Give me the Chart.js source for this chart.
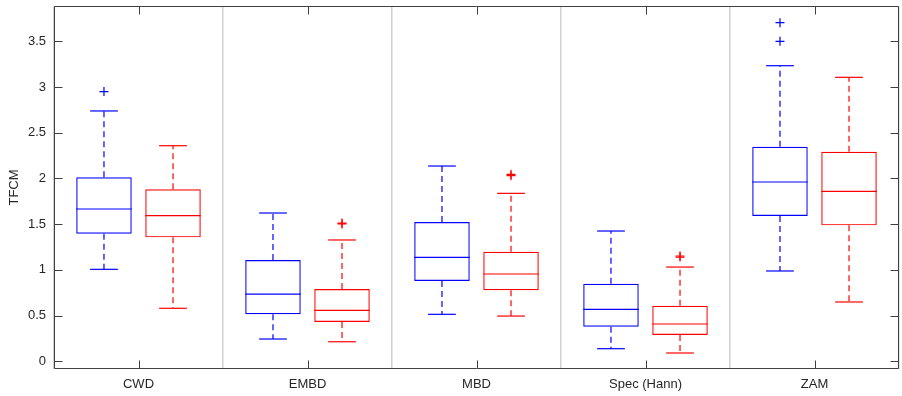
<!DOCTYPE html>
<html>
<head>
<meta charset="utf-8">
<script src="https://cdn.jsdelivr.net/npm/chart.js@4.4.1/dist/chart.umd.min.js"></script>
<style>
html,body{margin:0;padding:0;background:#fff;}
#wrap{width:902px;height:396px;position:relative;}
</style>
</head>
<body>
<div id="wrap"><canvas id="c" width="902" height="396"></canvas></div>
<script>
const categories = ['CWD', 'EMBD', 'MBD', 'Spec (Hann)', 'ZAM'];
const yTicks = [0, 0.5, 1, 1.5, 2, 2.5, 3, 3.5];

// Blue series
const blueLow  = [1.006, 0.244, 0.514, 0.138, 0.988];
const blueQ1   = [1.396, 0.514, 0.878, 0.379, 1.589];
const blueMed  = [1.666, 0.735, 1.137, 0.569, 1.961];
const blueQ3   = [2.012, 1.108, 1.524, 0.849, 2.347];
const blueHigh = [2.738, 1.622, 2.136, 1.425, 3.233];
const blueOut  = [[2.95], [], [], [], [3.50, 3.704]];

// Red series
const redLow  = [0.580, 0.214, 0.495, 0.091, 0.649];
const redQ1   = [1.356, 0.430, 0.777, 0.288, 1.487];
const redMed  = [1.593, 0.558, 0.955, 0.408, 1.859];
const redQ3   = [1.881, 0.791, 1.199, 0.608, 2.292];
const redHigh = [2.358, 1.327, 1.837, 1.031, 3.106];
const redOut  = [[], [1.503, 1.512], [2.030, 2.045], [1.140, 1.152], []];

const BLUE = '#0000ff', RED = '#ff0000', AXIS = '#404040', TXT = '#262626';
const FONT = {family: '"Liberation Sans", Arial, Helvetica, sans-serif', size: 13};

const stats = [
  {low: blueLow, med: blueMed, high: blueHigh, q1: blueQ1, q3: blueQ3, out: blueOut, color: BLUE},
  {low: redLow, med: redMed, high: redHigh, q1: redQ1, q3: redQ3, out: redOut, color: RED}
];

const boxPlugin = {
  id: 'boxExtras',
  afterDatasetsDraw(chart) {
    const ctx = chart.ctx;
    const ys = chart.scales.y;
    stats.forEach((s, d) => {
      const meta = chart.getDatasetMeta(d);
      meta.data.forEach((el, i) => {
        const cx = el.x;
        const half = el.width / 2;
        const py = v => ys.getPixelForValue(v);
        ctx.save();
        ctx.strokeStyle = s.color;
        ctx.lineWidth = 1.2;
        // median
        ctx.beginPath();
        ctx.moveTo(cx - half, py(s.med[i]));
        ctx.lineTo(cx + half, py(s.med[i]));
        ctx.stroke();
        // whiskers (dashed)
        ctx.setLineDash([6, 4]);
        ctx.beginPath();
        ctx.moveTo(cx, py(s.q3[i]));
        ctx.lineTo(cx, py(s.high[i]));
        ctx.moveTo(cx, py(s.q1[i]));
        ctx.lineTo(cx, py(s.low[i]));
        ctx.stroke();
        ctx.setLineDash([]);
        // caps
        const cw = half / 2;
        ctx.beginPath();
        ctx.moveTo(cx - cw, py(s.high[i]));
        ctx.lineTo(cx + cw, py(s.high[i]));
        ctx.stroke();
        ctx.beginPath();
        ctx.moveTo(cx - cw, py(s.low[i]));
        ctx.lineTo(cx + cw, py(s.low[i]));
        ctx.stroke();
        // outliers
        s.out[i].forEach(v => {
          const oy = py(v);
          ctx.beginPath();
          ctx.moveTo(cx - 4.5, oy);
          ctx.lineTo(cx + 4.5, oy);
          ctx.moveTo(cx, oy - 4.5);
          ctx.lineTo(cx, oy + 4.5);
          ctx.stroke();
        });
        ctx.restore();
      });
    });
  },
  afterDraw(chart) {
    const ctx = chart.ctx;
    const a = chart.chartArea;
    const xs = chart.scales.x, ys = chart.scales.y;
    ctx.save();
    ctx.strokeStyle = AXIS;
    ctx.lineWidth = 1;
    const L = Math.round(a.left) + 0.5, R = Math.round(a.right) - 0.5;
    const T = Math.round(a.top) + 0.5, B = Math.round(a.bottom) - 0.5;
    ctx.beginPath();
    ctx.rect(L, T, R - L, B - T);
    ctx.stroke();
    // inward ticks
    ctx.beginPath();
    yTicks.forEach(v => {
      const p = Math.round(ys.getPixelForValue(v)) + 0.5;
      ctx.moveTo(L, p); ctx.lineTo(L + 8, p);
      ctx.moveTo(R, p); ctx.lineTo(R - 8, p);
    });
    categories.forEach((c, i) => {
      const p = Math.round(xs.getPixelForValue(i)) + 0.5;
      ctx.moveTo(p, B); ctx.lineTo(p, B - 8);
      ctx.moveTo(p, T); ctx.lineTo(p, T + 8);
    });
    ctx.stroke();
    ctx.restore();
  }
};

new Chart(document.getElementById('c'), {
  type: 'bar',
  data: {
    labels: categories,
    datasets: [
      {data: blueQ1.map((q, i) => [q, blueQ3[i]]), borderColor: BLUE, backgroundColor: 'rgba(0,0,0,0)',
       borderWidth: 1.2, borderSkipped: false, categoryPercentage: 0.817, barPercentage: 0.804},
      {data: redQ1.map((q, i) => [q, redQ3[i]]), borderColor: RED, backgroundColor: 'rgba(0,0,0,0)',
       borderWidth: 1.2, borderSkipped: false, categoryPercentage: 0.817, barPercentage: 0.804}
    ]
  },
  options: {
    responsive: false,
    animation: false,
    events: [],
    layout: {padding: {top: 6, right: 3, left: 0, bottom: 0}},
    plugins: {legend: {display: false}, tooltip: {enabled: false}},
    scales: {
      x: {
        type: 'category',
        offset: true,
        grid: {display: true, offset: true, color: '#d0d0d0', lineWidth: 1.5, drawTicks: false},
        border: {display: false},
        ticks: {color: TXT, font: FONT, padding: 8, maxRotation: 0},
        afterFit(s) { s.height = 27; s.paddingLeft = 0; s.paddingRight = 0; }
      },
      y: {
        type: 'linear',
        min: -0.084,
        max: 3.886,
        grid: {display: false, drawTicks: false},
        border: {display: false},
        ticks: {stepSize: 0.5, includeBounds: false, color: TXT, font: FONT, padding: 8,
                callback: v => String(Math.round(v * 10) / 10)},
        title: {display: true, text: 'TFCM', color: TXT, font: FONT, padding: {top: 7, bottom: 0}},
        afterFit(s) { s.width = 54; s.paddingTop = 0; s.paddingBottom = 0; }
      }
    }
  },
  plugins: [boxPlugin]
});
</script>
</body>
</html>
